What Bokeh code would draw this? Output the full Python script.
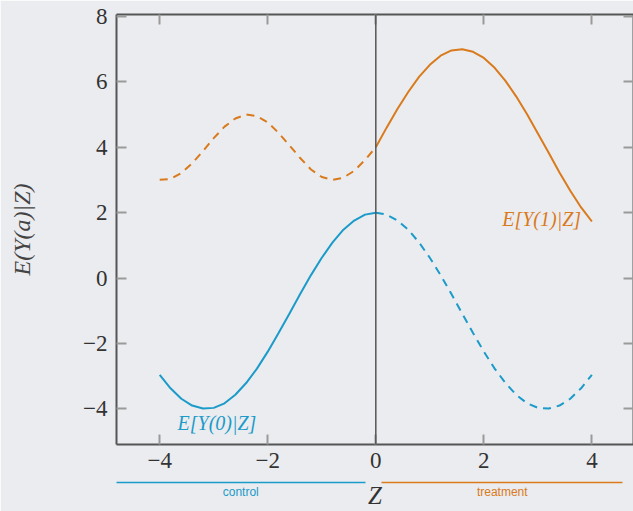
from bokeh.plotting import figure
from bokeh.models import Range1d, Span, LinearAxis, FixedTicker
from bokeh.core.properties import value
from bokeh.embed import file_html
from bokeh.resources import INLINE

# ---- data ----
z_left = [-4.0, -3.8, -3.6, -3.4, -3.2, -3.0, -2.8, -2.6, -2.4, -2.2, -2.0,
          -1.8, -1.6, -1.4, -1.2, -1.0, -0.8, -0.6, -0.4, -0.2, 0.0]
z_right = [0.0, 0.2, 0.4, 0.6, 0.8, 1.0, 1.2, 1.4, 1.6, 1.8, 2.0,
           2.2, 2.4, 2.6, 2.8, 3.0, 3.2, 3.4, 3.6, 3.8, 4.0]
y0_left = [-2.96, -3.37, -3.69, -3.90, -3.99, -3.97, -3.83, -3.57, -3.21, -2.77, -2.25,
           -1.68, -1.09, -0.49, 0.09, 0.62, 1.09, 1.48, 1.76, 1.94, 2.00]
y0_right = [2.00, 1.94, 1.76, 1.48, 1.09, 0.62, 0.09, -0.49, -1.09, -1.68, -2.25,
            -2.77, -3.21, -3.57, -3.83, -3.97, -3.99, -3.90, -3.69, -3.37, -2.96]
y1_left = [3.01, 3.03, 3.21, 3.51, 3.88, 4.28, 4.63, 4.88, 5.00, 4.95, 4.76,
           4.44, 4.06, 3.67, 3.32, 3.09, 3.00, 3.07, 3.28, 3.61, 4.00]
y1_right = [4.00, 4.60, 5.17, 5.69, 6.15, 6.52, 6.80, 6.96, 7.00, 6.92, 6.73,
            6.43, 6.03, 5.55, 5.01, 4.42, 3.83, 3.23, 2.67, 2.16, 1.73]

x_ticks = [-4, -2, 0, 2, 4]
x_tick_labels = ["\u22124", "\u22122", "0", "2", "4"]
y_ticks = [-4, -2, 0, 2, 4, 6, 8]
y_tick_labels = ["\u22124", "\u22122", "0", "2", "4", "6", "8"]

curve_labels = ["E[Y(0)|Z]", "E[Y(1)|Z]"]
curve_label_x = [-3.67, 3.8]
curve_label_y = [-4.42, 1.8]

group_names = ["control", "treatment"]
group_x0 = [-4.8, 0.11]
group_x1 = [-0.19, 4.57]

BLUE = "#1b9bc9"
ORANGE = "#d97a1c"
BG = "#ebecef"
AX = "#555555"
TICK = "#9a9a9a"
SERIF = "Liberation Serif"
SANS = "Liberation Sans"
group_colors = [BLUE, ORANGE]

x_lo, x_hi = -4.8, 4.77

p = figure(width=633, height=511, output_backend="svg", toolbar_location=None,
           x_range=Range1d(x_lo, x_hi), y_range=Range1d(-5.09, 8.06),
           x_axis_location="below", y_axis_location="left",
           min_border_left=116, min_border_right=0, min_border_top=14, min_border_bottom=0)
p.background_fill_color = BG
p.border_fill_color = BG
p.outline_line_color = None
p.grid.visible = False

def style_axis(ax, ticks, labels, show_labels=True):
    ax.ticker = FixedTicker(ticks=ticks)
    ax.axis_line_color = AX
    ax.axis_line_width = 2
    ax.major_tick_line_color = TICK
    ax.major_tick_line_width = 2
    ax.major_tick_in = 10
    ax.major_tick_out = 0
    ax.minor_tick_line_color = None
    ax.major_label_text_font = SERIF
    ax.major_label_text_color = "#333333"
    if show_labels:
        ax.major_label_overrides = dict(zip(ticks, labels))
        ax.major_label_text_font_size = "23px"
    else:
        ax.major_label_overrides = {t: "" for t in ticks}
        ax.major_label_text_font_size = "1px"
        ax.major_label_standoff = 0

def bare_axis(ax):
    ax.ticker = FixedTicker(ticks=[])
    ax.major_tick_in = 0
    ax.major_tick_out = 0
    ax.major_tick_line_color = None
    ax.minor_tick_line_color = None
    ax.major_label_standoff = 0
    ax.major_label_text_font_size = "1px"

xa = p.xaxis[0]
style_axis(xa, x_ticks, x_tick_labels)
xa.major_label_standoff = 8

ya = p.yaxis[0]
style_axis(ya, y_ticks, y_tick_labels)
ya.major_label_standoff = 9
ya.axis_label = "E(Y(a)|Z)"
ya.axis_label_text_font = SERIF
ya.axis_label_text_font_style = "italic"
ya.axis_label_text_font_size = "24px"
ya.axis_label_text_color = "#444444"
ya.axis_label_standoff = 45

top = LinearAxis()
style_axis(top, x_ticks, x_tick_labels, show_labels=False)
p.add_layout(top, "above")
right = LinearAxis()
style_axis(right, y_ticks, y_tick_labels, show_labels=False)
p.add_layout(right, "right")

# spacer between tick labels and the group bars
spacer = LinearAxis()
bare_axis(spacer)
spacer.axis_line_color = None
spacer.ticker = FixedTicker(ticks=x_ticks)
spacer.major_tick_out = 12
spacer.major_label_overrides = {t: "" for t in x_ticks}
p.add_layout(spacer, "below")

# group bars: bounded axes drawn as coloured rules; group names as their tick labels
group_mid = [round((a + b) / 2, 2) for a, b in zip(group_x0, group_x1)]
rules = []
for x0, x1, col in zip(group_x0, group_x1, group_colors):
    g = LinearAxis(bounds=(x0, x1))
    bare_axis(g)
    g.axis_line_color = col
    g.axis_line_width = 1.5
    rules.append(g)
p.add_layout(rules[0], "below")
p.add_layout(rules[1], "below")

# second rule carries its name below it
rules[1].ticker = FixedTicker(ticks=[group_mid[1]])
rules[1].major_label_overrides = {group_mid[1]: group_names[1]}
rules[1].major_label_text_font = SANS
rules[1].major_label_text_font_size = "12px"
rules[1].major_label_text_color = group_colors[1]
rules[1].major_label_standoff = 2

# first group's name: its own axis pulled back to the same row
cname = LinearAxis()
bare_axis(cname)
cname.axis_line_color = None
cname.ticker = FixedTicker(ticks=[group_mid[0]])
cname.major_label_overrides = {group_mid[0]: group_names[0]}
cname.major_label_text_font = SANS
cname.major_label_text_font_size = "12px"
cname.major_label_text_color = group_colors[0]
cname.major_label_standoff = -17
p.add_layout(cname, "below")

# Z label as the outermost axis title, centred on the frame
zax = LinearAxis()
bare_axis(zax)
zax.axis_line_color = None
zax.axis_label = "Z"
zax.axis_label_text_font = SERIF
zax.axis_label_text_font_style = "italic"
zax.axis_label_text_font_size = "25px"
zax.axis_label_text_color = "#333333"
zax.axis_label_standoff = -20
p.add_layout(zax, "below")

p.add_layout(Span(location=0, dimension="height", line_color=AX, line_width=1.5))

p.line(z_left, y0_left, line_color=BLUE, line_width=2)
p.line(z_right, y0_right, line_color=BLUE, line_width=2, line_dash="8 6")
p.line(z_left, y1_left, line_color=ORANGE, line_width=2, line_dash="8 6")
p.line(z_right, y1_right, line_color=ORANGE, line_width=2)

p.text(x=[curve_label_x[0]], y=[curve_label_y[0]], text=[curve_labels[0]],
       text_color=BLUE, text_font=value(SERIF), text_font_style="italic",
       text_font_size="20px", text_align="left", text_baseline="middle")
p.text(x=[curve_label_x[1]], y=[curve_label_y[1]], text=[curve_labels[1]],
       text_color=ORANGE, text_font=value(SERIF), text_font_style="italic",
       text_font_size="20px", text_align="right", text_baseline="middle")

html = file_html(p, INLINE)
html = html.replace("<body>", '<body style="background:%s">' % BG, 1)
open("out.html", "w").write(html)
